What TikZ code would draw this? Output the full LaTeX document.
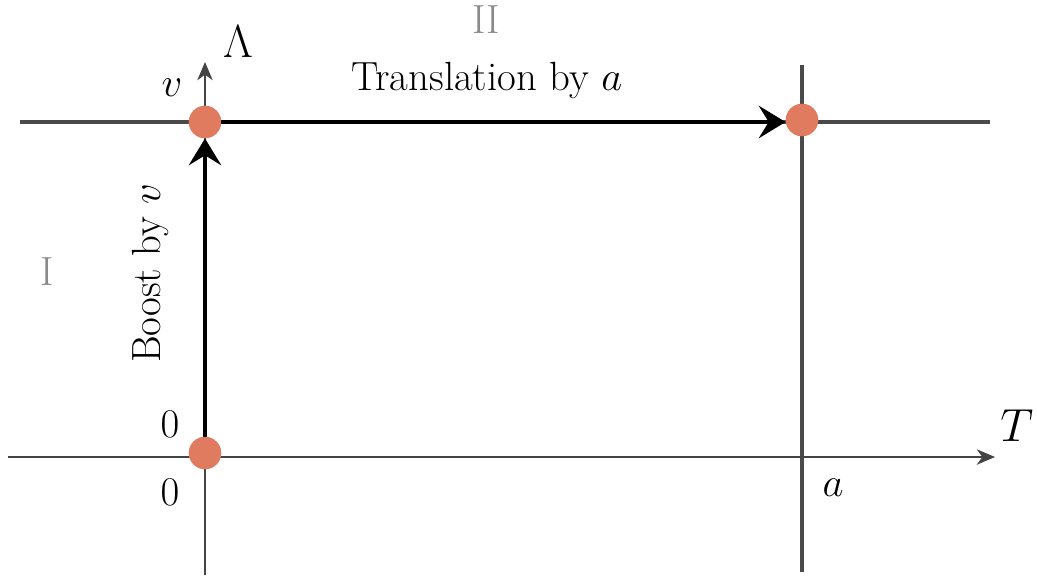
\RequirePackage{fix-cm}
\documentclass[tikz,border=0pt]{standalone}
\usetikzlibrary{arrows.meta}
\definecolor{dotc}{HTML}{E07B5F}
\definecolor{axc}{HTML}{444444}
\definecolor{linec}{HTML}{4A4A4A}
\definecolor{regc}{HTML}{8A8A8A}
\begin{document}
\begin{tikzpicture}[x=1cm,y=1cm,
  axis/.style={draw=axc, line width=0.9pt, -{Stealth[length=13pt,width=11pt,inset=4pt]}},
  gridline/.style={draw=linec, line width=2.2pt},
  move/.style={draw=black, line width=3.4pt, -{Stealth[length=19pt,width=23pt,inset=7pt]}},
  pt/.style={circle, fill=dotc, minimum size=23pt, inner sep=0pt},
  lab/.style={font=\fontsize{29}{34}\selectfont, inner sep=0pt},
  big/.style={font=\fontsize{33}{38}\selectfont, inner sep=0pt},
  reg/.style={lab, text=regc}]
\useasboundingbox (0,0) rectangle (25.925,-14.45);
% coordinates
\coordinate (hl) at (0.2,-11.425);
\coordinate (hr) at (24.875,-11.425);
\coordinate (vb) at (5.125,-14.375);
\coordinate (vt) at (5.125,-1.55);
\coordinate (gl) at (0.5,-3.05);
\coordinate (gr) at (24.75,-3.05);
\coordinate (at) at (20.05,-1.625);
\coordinate (ab) at (20.05,-14.3);
% axes and grid lines
\draw[gridline] (gl) -- (gr);
\draw[gridline] (at) -- (ab);
\draw[axis] (hl) -- (hr);
\draw[axis] (vb) -- (vt);
% points
\node[pt] (o) at (5.125,-11.325) {};
\node[pt] (v) at (5.125,-3.05) {};
\node[pt] (a) at (20.05,-3.0) {};
% moves
\draw[move] (o.center) -- (v.south);
\draw[move] (v.center) -- (v.center -| a.west);
\node[pt] at (o) {};
\node[pt] at (v) {};
\node[pt] at (a) {};
% labels
\node[big] (lamb) at (5.95,-1.05) {$\Lambda$};
\node[big] (tlab) at (25.42,-10.65) {$T$};
\node[lab] (vlab) at (4.3,-2.2) {$v$};
\node[lab] (z1) at (4.25,-10.62) {$0$};
\node[lab] (z2) at (4.25,-12.3) {$0$};
\node[lab] (alab) at (20.83,-12.2) {$a$};
\node[reg] (r2) at (12.15,-0.5) {II};
\node[reg] (r1) at (1.18,-6.8) {I};
\node[lab, anchor=base] (trans) at (12.17,-2.27) {Translation by $a$};
\node[lab, rotate=90, anchor=base] (boost) at (4.0,-6.83) {Boost by $v$};
\end{tikzpicture}
\end{document}
